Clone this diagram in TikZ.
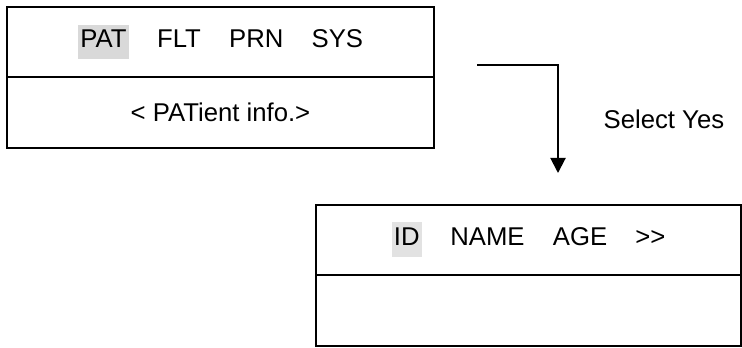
\documentclass[tikz,border=0pt]{standalone}
\usepackage{fontspec}
\setmainfont{Liberation Sans}
\usetikzlibrary{arrows.meta,positioning}

\definecolor{hlgray}{HTML}{D9D9D9}
\definecolor{hlgraylight}{HTML}{E2E2E2}
\newcommand{\hlword}[2][hlgray]{{\setlength{\fboxsep}{1.2pt}\colorbox{#1}{\strut #2}}}
\newcommand{\gap}{\hspace{1.1em}}

\begin{document}
\begin{tikzpicture}[x=0.5pt, y=-0.5pt,
    every node/.style={font=\fontsize{12.85}{15}\selectfont},
    row/.style={rectangle, draw=black, line width=1pt, outer sep=0pt, inner sep=0pt, align=center},
    upper/.style={row, minimum width=213.5pt, minimum height=35pt},
    lower/.style={row, minimum width=213.5pt, minimum height=35.5pt},
    every path/.style={line width=1pt}
]
    \useasboundingbox (0,0) rectangle (742,347);

    % Main menu screen
    \node[upper] (mainmenu) at (220.5,42) {\hlword{PAT}\gap FLT\gap PRN\gap SYS};
    \node[lower, below=0pt of mainmenu] (patinfo) {< PATient info.>};

    % Patient info screen
    \node[upper, minimum width=212.5pt] (patmenu) at (528.5,239.5) {\hlword[hlgraylight]{ID}\gap NAME\gap AGE\gap {>}{>}};
    \node[lower, minimum width=212.5pt, below=0pt of patmenu] (patblank) {};

    % Transition
    \coordinate (selstart) at (477,65);
    \coordinate (selend) at (558,173);
    \draw[-{Triangle[length=7.5pt,width=7.5pt]}] (selstart) -| (selend)
        node[pos=0.75, right=19pt] (selyes) {Select Yes};

\end{tikzpicture}
\end{document}
